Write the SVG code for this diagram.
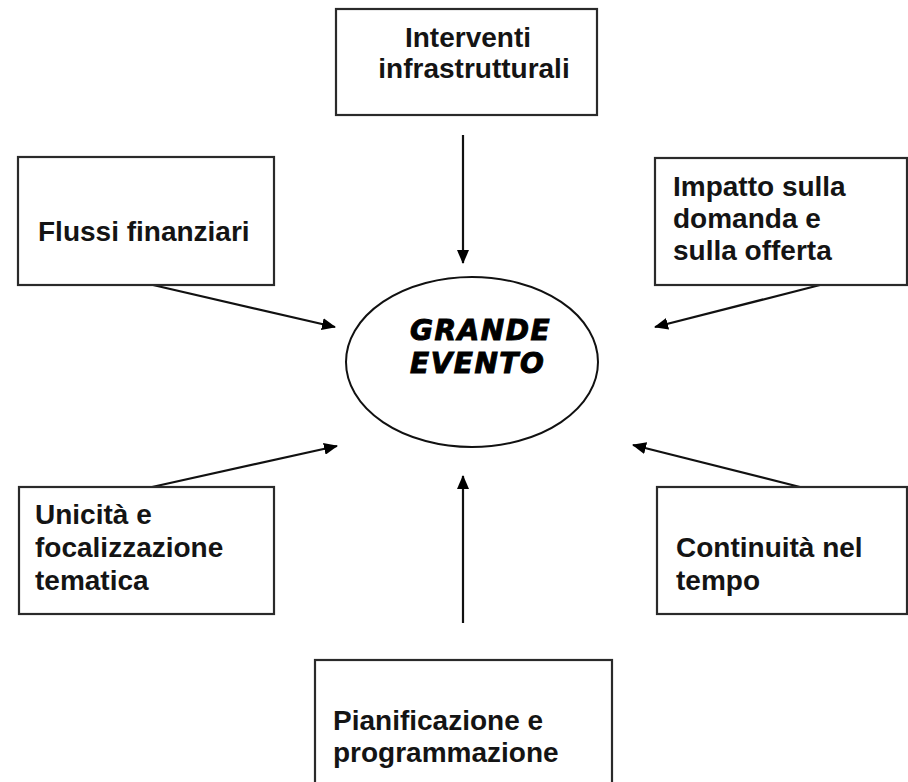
<svg xmlns="http://www.w3.org/2000/svg" width="908" height="782" viewBox="0 0 908 782">
<defs>
<style>
.box{fill:#fff;stroke:#2a2a2a;stroke-width:2.2}
.t{font-family:"Liberation Sans",Arial,sans-serif;font-weight:bold;font-size:28px;fill:#141414}
.c{stroke:#111;stroke-width:2.2;fill:none;marker-end:url(#ah)}
.g{font-family:"DejaVu Sans","Liberation Sans",sans-serif;font-weight:bold;font-style:italic;font-size:28px;letter-spacing:1.5px;fill:#000;stroke:#000;stroke-width:1}
</style>
<marker id="ah" markerUnits="userSpaceOnUse" markerWidth="14" markerHeight="12" refX="13" refY="6" orient="auto">
<path d="M0,0 L14,6 L0,12 Z" fill="#000"/>
</marker>
</defs>
<rect width="908" height="782" fill="#fff"/>
<g id="connectors">
<line class="c" x1="463" y1="135" x2="463" y2="263"/>
<line class="c" x1="153" y1="285" x2="335" y2="327"/>
<line class="c" x1="820" y1="285" x2="655" y2="327"/>
<line class="c" x1="152" y1="487" x2="337" y2="446"/>
<line class="c" x1="800" y1="487" x2="633" y2="445"/>
<line class="c" x1="463" y1="623" x2="463" y2="476"/>
</g>
<g id="n-interventi">
<rect class="box" x="336" y="9" width="261" height="106"/>
<text class="t" text-anchor="middle" x="468" y="47">Interventi</text>
<text class="t" text-anchor="middle" x="474" y="78">infrastrutturali</text>
</g>
<g id="n-flussi">
<rect class="box" x="18" y="157" width="256" height="128"/>
<text class="t" x="38" y="241">Flussi finanziari</text>
</g>
<g id="n-impatto">
<rect class="box" x="655" y="158" width="252" height="127"/>
<text class="t" x="673" y="196">Impatto sulla</text>
<text class="t" x="673" y="228">domanda e</text>
<text class="t" x="673" y="260">sulla offerta</text>
</g>
<g id="n-grande">
<ellipse cx="472" cy="362" rx="126" ry="85" fill="#fff" stroke="#111" stroke-width="2"/>
<text class="g" x="410" y="340">GRANDE</text>
<text class="g" x="410" y="373">EVENTO</text>
</g>
<g id="n-unicita">
<rect class="box" x="19" y="487" width="255" height="127"/>
<text class="t" x="35" y="524">Unicità e</text>
<text class="t" x="35" y="557">focalizzazione</text>
<text class="t" x="35" y="590">tematica</text>
</g>
<g id="n-continuita">
<rect class="box" x="657" y="487" width="250" height="127"/>
<text class="t" x="676" y="557">Continuità nel</text>
<text class="t" x="676" y="590">tempo</text>
</g>
<g id="n-pianificazione">
<rect class="box" x="315" y="660" width="297" height="130"/>
<text class="t" x="333" y="730">Pianificazione e</text>
<text class="t" x="333" y="762">programmazione</text>
</g>
</svg>
